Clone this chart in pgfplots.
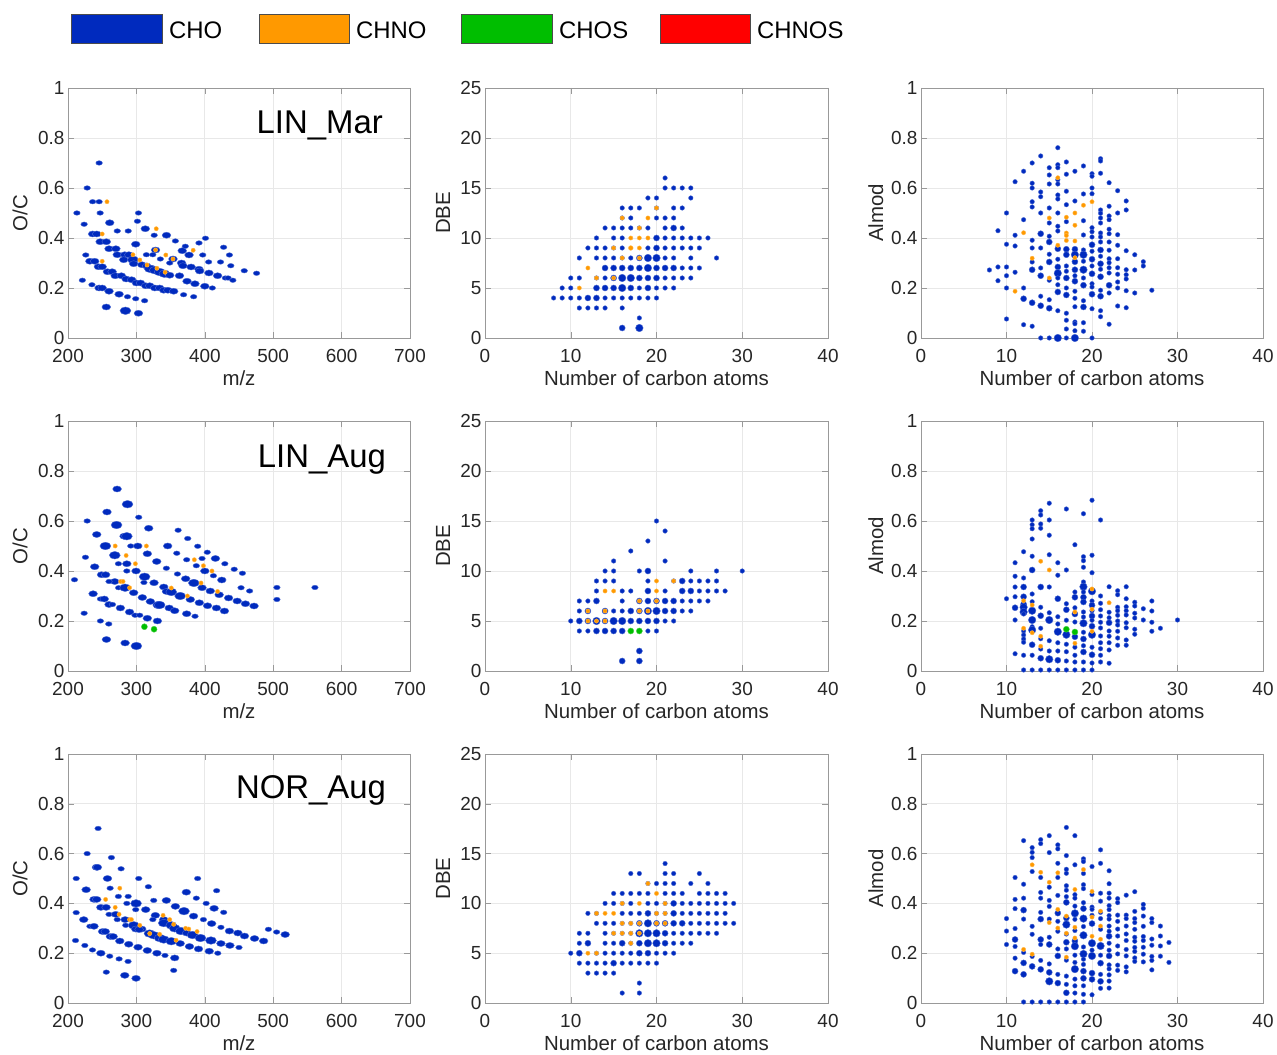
\documentclass[border=0pt]{standalone}
\usepackage{fontspec}
\setmainfont{Liberation Sans}
\usepackage{pgfplots}
\pgfplotsset{compat=1.18}
\definecolor{cho}{RGB}{0,42,190}
\definecolor{chno}{RGB}{255,153,0}
\definecolor{chos}{RGB}{0,190,0}
\definecolor{chnos}{RGB}{255,0,0}
\pgfdeclareplotmark{hell}{\pgfpathellipse{\pgfpointorigin}{\pgfpoint{1.45\pgfplotmarksize}{0pt}}{\pgfpoint{0pt}{\pgfplotmarksize}}\pgfusepathqfillstroke}
\pgfplotsset{
  mat/.style={scale only axis, width=342bp, height=250bp, anchor=south west,
    axis line style={black!40}, tick style={black!40}, major tick length=6bp,
    tick align=inside, grid=major, major grid style={black!9, line width=0.8bp},
    /pgf/number format/assume math mode=true,
    ticklabel style={font=\fontsize{19}{19}\selectfont, text=black!85},
    xticklabel style={yshift=-7.5bp},
    label style={font=\fontsize{20.5}{20.5}\selectfont, text=black!85},
    xlabel style={at={(axis description cs:0.5,-0.16)}, anchor=center},
    clip=false},
  lft/.style={mat, xmin=200, xmax=700, xtick={200,300,...,700}, ymin=0, ymax=1,
    ytick={0,0.2,0.4,0.6,0.8,1}, xlabel={m/z}, ylabel={O/C},
    ylabel style={at={(axis description cs:-0.14,0.5)}, anchor=center}},
  mid/.style={mat, width=343bp, xmin=0, xmax=40, xtick={0,10,...,40}, ymin=0, ymax=25,
    ytick={0,5,...,25}, xlabel={Number of carbon atoms}, ylabel={DBE},
    ylabel style={at={(axis description cs:-0.122,0.5)}, anchor=center}},
  rgt/.style={mat, xmin=0, xmax=40, xtick={0,10,...,40}, ymin=0, ymax=1,
    ytick={0,0.2,0.4,0.6,0.8,1}, xlabel={Number of carbon atoms}, ylabel={Almod},
    ylabel style={at={(axis description cs:-0.132,0.5)}, anchor=center}},
  bub/.style 2 args={scatter, only marks, mark=*, point meta=\thisrow{s},
    point meta min=0, point meta max=4,
    scatter/use mapped color={draw=#1!70!white, fill=#1},
    visualization depends on={#2+0.75*\thisrow{s}\as\ms},
    scatter/@pre marker code/.append style={/tikz/mark size=\ms, /tikz/line width=0.5bp}},
  bubL/.style 2 args={bub={#1}{#2}, mark=hell},
}
\begin{document}
\begin{tikzpicture}
\path[use as bounding box] (0bp,0bp) rectangle (1277bp,1055bp);
% legend
\foreach \xa/\xb/\col/\lab in {71/162/cho/CHO, 259/349/chno/CHNO, 461/552/chos/CHOS, 660/750/chnos/CHNOS}{
  \filldraw[fill=\col, draw=black!70, line width=0.6bp] (\xa bp,1012bp) rectangle (\xb bp,1041bp);
  \node[anchor=west, inner sep=0pt, font=\fontsize{24}{24}\selectfont] at (\xb bp+7bp,1025bp) {\lab};
}
%================ ROW 1 =================
\begin{axis}[lft, at={(68bp,717bp)}]
\addplot[bubL={cho}{1.55}] table[row sep=\\]{x y s\\
245.5 0.70 1\\ 228 0.60 1\\ 236 0.545 1\\ 245.5 0.545 1\\ 213 0.50 1\\ 247 0.50 1\\ 303 0.50 1\\ 223.6 0.455 1\\ 261 0.461 2\\ 272 0.428 1\\ 288 0.428 1\\ 301.5 0.467 1\\ 313 0.437 2\\ 326 0.411 1\\ 344 0.411 2\\ 236 0.416 2\\ 242 0.416 2\\ 247 0.385 2\\ 256 0.385 2\\ 299 0.375 2\\ 357 0.388 1\\ 371.5 0.367 1\\ 391.5 0.38 1\\ 401 0.399 1\\ 427.5 0.363 1\\ 260 0.357 2\\ 270 0.357 2\\ 328 0.352 2\\ 226 0.332 1\\ 272 0.333 2\\ 283 0.333 2\\ 289 0.333 2\\ 314.6 0.333 1\\ 324 0.333 1\\ 367 0.349 2\\ 377 0.332 2\\ 397 0.332 1\\ 436 0.332 1\\ 232 0.307 2\\ 239 0.307 2\\ 281.5 0.313 2\\ 295 0.313 3\\ 335 0.316 1\\ 353.5 0.316 2\\ 296 0.297 2\\ 308 0.293 2\\ 315 0.288 2\\ 322 0.279 2\\ 348.7 0.30 1\\ 366 0.30 2\\ 368 0.289 2\\ 391.5 0.275 2\\ 380 0.284 2\\ 405.6 0.304 1\\ 423 0.304 1\\ 438 0.289 1\\ 244.5 0.285 2\\ 250 0.285 2\\ 319.5 0.277 3\\ 327 0.271 3\\ 334 0.264 3\\ 341 0.257 3\\ 348.7 0.251 2\\ 363 0.249 2\\ 374 0.227 2\\ 385.6 0.217 2\\ 392.5 0.268 2\\ 406 0.26 2\\ 418.7 0.249 2\\ 430 0.24 1\\ 434 0.24 1\\ 441 0.231 1\\ 457.7 0.269 1\\ 475.7 0.259 1\\ 257.7 0.265 2\\ 264.5 0.265 2\\ 269 0.249 2\\ 278 0.249 2\\ 285 0.236 2\\ 293 0.233 2\\ 300 0.22 2\\ 306 0.22 2\\ 313.6 0.209 2\\ 319.5 0.209 2\\ 326.8 0.20 2\\ 334 0.20 2\\ 340 0.191 2\\ 346 0.191 2\\ 354.5 0.187 2\\ 369 0.173 1\\ 383.7 0.165 1\\ 400 0.207 2\\ 411 0.20 1\\ 221 0.231 1\\ 235 0.213 1\\ 245.5 0.20 2\\ 250 0.20 2\\ 260 0.187 2\\ 274.7 0.175 2\\ 287 0.165 1\\ 299 0.157 1\\ 312 0.149 1\\ 256 0.124 2\\ 284 0.109 3\\ 303 0.099 2\\
};
\addplot[bub={chno}{1.4}] table[row sep=\\]{x y s\\
257 0.545 1\\ 329 0.437 1\\ 250 0.416 1\\ 328 0.352 1\\ 343 0.332 1\\ 295 0.333 1\\ 383 0.351 1\\ 250 0.307 1\\ 305 0.312 1\\ 353.5 0.316 1\\ 315.6 0.292 1\\ 330 0.279 1\\ 342 0.263 1\\
};
\node[anchor=base east, inner sep=0pt, font=\fontsize{33}{33}\selectfont] at (axis description cs:0.921,0.816) {LIN\_Mar};
\end{axis}
\begin{axis}[mid, at={(485bp,717bp)}]
\addplot[bub={cho}{1.55}] table[row sep=\\]{x y s\\
21 16 1\\ 21 15 1\\ 22 15 1\\ 23 15 1\\ 24 15 1\\ 19 14 1\\ 20 14 1\\ 24 14 1\\
16 13 1\\ 17 13 1\\ 18 13 1\\ 20 13 1\\ 22 13 1\\ 23 13 1\\
16 12 1\\ 17 12 1\\ 20 12 1\\ 21 12 1\\ 22 12 1\\
14 11 1\\ 15 11 1\\ 16 11 1\\ 17 11 1\\ 18 11 1\\ 19 11 1\\ 21 11 1\\ 22 11 2\\ 23 11 1\\
13 10 1\\ 15 10 1\\ 16 10 1\\ 20 10 2\\ 21 10 1\\ 22 10 1\\ 23 10 1\\ 24 10 1\\ 25 10 1\\ 26 10 1\\
12 9 1\\ 13 9 1\\ 14 9 1\\ 15 9 1\\ 16 9 1\\ 19 9 1\\ 20 9 2\\ 21 9 1\\ 22 9 1\\ 23 9 1\\ 24 9 1\\ 25 9 1\\
11 8 1\\ 13 8 1\\ 14 8 1\\ 15 8 1\\ 16 8 1\\ 17 8 1\\ 18 8 2\\ 19 8 3\\ 20 8 3\\ 21 8 1\\ 22 8 1\\ 24 8 1\\ 27 8 1\\
14 7 2\\ 15 7 2\\ 16 7 2\\ 17 7 2\\ 18 7 2\\ 19 7 3\\ 20 7 2\\ 21 7 2\\ 22 7 2\\ 23 7 1\\ 24 7 1\\ 25 7 1\\
10 6 1\\ 11 6 1\\ 13 6 1\\ 14 6 1\\ 15 6 2\\ 16 6 3\\ 17 6 3\\ 18 6 2\\ 19 6 2\\ 20 6 2\\ 21 6 1\\ 22 6 1\\ 23 6 1\\ 24 6 1\\
9 5 1\\ 10 5 1\\ 13 5 2\\ 14 5 2\\ 15 5 2\\ 16 5 3\\ 17 5 2\\ 18 5 1\\ 19 5 2\\ 20 5 1\\ 21 5 1\\ 22 5 1\\
8 4 1\\ 9 4 1\\ 10 4 1\\ 11 4 1\\ 12 4 2\\ 13 4 2\\ 14 4 1\\ 15 4 1\\ 16 4 1\\ 17 4 1\\ 18 4 1\\ 19 4 1\\ 20 4 1\\
11 3 1\\ 12 3 1\\ 13 3 1\\ 14 3 1\\ 16 3 1\\ 18 2 1\\ 16 1 2\\ 18 1 3\\
};
\addplot[bub={chno}{1.4}] table[row sep=\\]{x y s\\
20 13 1\\ 16 12 1\\ 19 12 1\\ 18 11 1\\ 17 10 1\\ 18 10 1\\ 19 10 1\\ 15 9 1\\ 17 9 1.3\\ 18 9 1\\ 16 8 1\\ 18 8 1\\ 12 7 1\\ 13 6 1\\ 15 6 1\\ 11 5 1\\
};
\end{axis}
\begin{axis}[rgt, at={(921bp,717bp)}]
\addplot[bub={cho}{1.55}] table[row sep=\\]{x y s\\
8 0.272 1\\ 9 0.429 1\\ 9 0.284 1\\ 9 0.229 1\\
10 0.50 1\\ 10 0.375 1\\ 10 0.284 1\\ 10 0.249 1\\ 10 0.2 1\\ 10 0.076 1\\
11 0.625 1\\ 11 0.411 1\\ 11 0.368 1\\ 11 0.263 1\\
12 0.667 1\\ 12 0.473 1\\ 12 0.2 1\\ 12 0.157 2\\ 12 0.053 1\\
13 0.70 1\\ 13 0.619 1\\ 13 0.6 1\\ 13 0.545 1\\ 13 0.524 1\\ 13 0.391 1\\ 13 0.36 1\\ 13 0.304 1\\ 13 0.273 2\\ 13 0.141 2\\ 13 0.047 1\\
14 0.728 1\\ 14 0.584 1\\ 14 0.565 1\\ 14 0.50 1\\ 14 0.417 2\\ 14 0.36 1\\ 14 0.28 1\\ 14 0.249 2\\ 14 0.167 1\\ 14 0.129 2\\ 14 0.0 1\\
15 0.681 1\\ 15 0.652 1\\ 15 0.616 1\\ 15 0.52 1\\ 15 0.46 1\\ 15 0.407 1\\ 15 0.384 2\\ 15 0.335 1\\ 15 0.304 2\\ 15 0.231 1\\ 15 0.153 1\\ 15 0.119 2\\ 15 0.0 1\\
16 0.761 1\\ 16 0.693 1\\ 16 0.681 1\\ 16 0.633 1\\ 16 0.616 1\\ 16 0.572 1\\ 16 0.556 1\\ 16 0.5 1\\ 16 0.447 1\\ 16 0.428 1\\ 16 0.357 2\\ 16 0.315 1\\ 16 0.284 2\\ 16 0.259 3\\ 16 0.24 1\\ 16 0.213 1\\ 16 0.184 2\\ 16 0.109 1\\ 16 0.0 3\\
17 0.704 1\\ 17 0.655 1\\ 17 0.587 1\\ 17 0.533 1\\ 17 0.465 1\\ 17 0.355 2\\ 17 0.333 2\\ 17 0.288 1\\ 17 0.267 1\\ 17 0.24 2\\ 17 0.2 1\\ 17 0.172 2\\ 17 0.099 1\\ 17 0.071 1\\ 17 0.036 1\\ 17 0.0 1\\
18 0.667 1\\ 18 0.548 1\\ 18 0.355 2\\ 18 0.333 3\\ 18 0.305 2\\ 18 0.273 2\\ 18 0.249 1\\ 18 0.227 2\\ 18 0.187 1\\ 18 0.159 1\\ 18 0.125 1\\ 18 0.064 1\\ 18 0.057 1\\ 18 0.029 1\\ 18 0.0 3\\
19 0.688 1\\ 19 0.576 1\\ 19 0.469 1\\ 19 0.412 1\\ 19 0.352 1\\ 19 0.333 3\\ 19 0.307 1\\ 19 0.273 3\\ 19 0.24 1\\ 19 0.211 2\\ 19 0.149 1\\ 19 0.124 2\\ 19 0.061 1\\ 19 0.027 1\\
20 0.657 1\\ 20 0.647 1\\ 20 0.6 1\\ 20 0.577 1\\ 20 0.441 1\\ 20 0.425 1\\ 20 0.404 1\\ 20 0.373 2\\ 20 0.347 1\\ 20 0.315 2\\ 20 0.288 1\\ 20 0.257 2\\ 20 0.217 1\\ 20 0.204 1\\ 20 0.175 2\\ 20 0.117 1\\ 20 0.0 1\\
21 0.717 1\\ 21 0.708 1\\ 21 0.659 1\\ 21 0.512 1\\ 21 0.499 1\\ 21 0.48 1\\ 21 0.46 1\\ 21 0.42 1\\ 21 0.404 1\\ 21 0.384 1\\ 21 0.352 2\\ 21 0.327 1\\ 21 0.297 2\\ 21 0.275 1\\ 21 0.245 2\\ 21 0.191 1\\ 21 0.167 2\\ 21 0.109 1\\ 21 0.085 1\\
22 0.621 1\\ 22 0.527 1\\ 22 0.488 1\\ 22 0.473 1\\ 22 0.435 1\\ 22 0.417 1\\ 22 0.384 1\\ 22 0.351 1\\ 22 0.317 1\\ 22 0.301 1\\ 22 0.281 1\\ 22 0.26 1\\ 22 0.211 2\\ 22 0.18 1\\ 22 0.055 1\\
23 0.589 1\\ 23 0.50 1\\ 23 0.413 1\\ 23 0.371 1\\ 23 0.317 1\\ 23 0.281 1\\ 23 0.255 1\\ 23 0.224 1\\ 23 0.2 1\\ 23 0.128 1\\
24 0.548 1\\ 24 0.512 1\\ 24 0.349 1\\ 24 0.273 1\\ 24 0.253 1\\ 24 0.236 1\\ 24 0.189 1\\ 24 0.121 1\\
25 0.333 1\\ 25 0.272 1\\ 25 0.18 1\\ 26 0.305 1\\ 26 0.288 1\\ 27 0.191 1\\
};
\addplot[bub={chno}{1.4}] table[row sep=\\]{x y s\\
11 0.187 1\\ 12 0.421 1\\ 13 0.319 1\\ 15 0.48 1\\ 15 0.24 1\\ 16 0.641 1\\ 16 0.371 1\\ 17 0.483 1\\ 17 0.42 1\\ 17 0.41 1\\ 17 0.39 1\\ 18 0.50 1\\ 18 0.451 1\\ 18 0.388 1\\ 18 0.321 1\\ 19 0.531 1\\ 20 0.545 1\\
};
\end{axis}
%================ ROW 2 =================
\begin{axis}[lft, at={(68bp,384bp)}]
\addplot[bubL={cho}{1.55}] table[row sep=\\]{x y s\\
271.8 0.728 2\\ 287 0.667 3\\ 257 0.636 2\\ 303.4 0.615 1\\ 228 0.60 1\\ 271 0.584 3\\ 318 0.571 2\\ 242 0.546 2\\ 282 0.539 2\\ 286 0.539 3\\ 361 0.563 1\\ 375 0.53 1\\ 389.6 0.499 1\\ 254.7 0.50 3\\ 291.8 0.50 1\\ 302 0.50 2\\ 345.7 0.50 2\\ 403.6 0.475 1\\ 268.4 0.463 3\\ 316 0.469 2\\ 359 0.471 1\\ 373.5 0.445 1\\ 396 0.45 1\\ 415.5 0.45 2\\ 225.5 0.455 1\\ 239 0.417 2\\ 273.7 0.429 1\\ 286 0.429 2\\ 329.7 0.438 2\\ 387.6 0.421 1\\ 429.3 0.429 1\\ 286 0.40 1\\ 299.5 0.40 2\\ 343.8 0.411 1\\ 400 0.40 2\\ 443 0.407 1\\ 455 0.391 1\\ 412.6 0.381 1\\ 424.8 0.364 2\\ 209.5 0.365 1\\ 249 0.385 2\\ 255 0.385 2\\ 312 0.377 3\\ 311 0.354 1\\ 325.8 0.353 2\\ 360 0.388 1\\ 372 0.369 2\\ 384 0.352 3\\ 268.4 0.358 2\\ 260 0.358 1\\ 274 0.333 1\\ 283.5 0.333 3\\ 340 0.336 2\\ 396 0.333 2\\ 408 0.32 2\\ 421 0.305 2\\ 434.8 0.292 2\\ 447.4 0.28 2\\ 453 0.333 1\\ 465.5 0.32 1\\ 344 0.318 2\\ 351 0.316 3\\ 364 0.30 3\\ 378.8 0.286 2\\ 296 0.313 2\\ 308.7 0.294 2\\ 320.4 0.278 2\\ 332 0.264 3\\ 334 0.264 3\\ 348 0.252 2\\ 356 0.241 2\\ 373.5 0.229 2\\ 385.7 0.219 1\\ 392 0.273 2\\ 404 0.261 2\\ 417 0.252 2\\ 428.7 0.24 2\\ 459.4 0.269 2\\ 472 0.26 2\\ 236.7 0.309 2\\ 247.4 0.288 1\\ 253 0.288 2\\ 260 0.266 2\\ 265 0.266 1\\ 276.6 0.252 2\\ 290 0.236 2\\ 298 0.223 1\\ 304.9 0.223 1\\ 316 0.211 2\\ 330.7 0.20 2\\ 223.6 0.231 1\\ 247.4 0.20 1\\ 259.6 0.188 1\\ 256.2 0.126 2\\ 283.5 0.112 2\\ 300 0.10 3\\ 505.4 0.334 1\\ 505.4 0.286 1\\ 561 0.334 1\\
};
\addplot[bub={chno}{1.4}] table[row sep=\\]{x y s\\
269 0.50 1\\ 314.6 0.50 1\\ 285 0.462 1\\ 384.7 0.445 1\\ 298.5 0.429 1\\ 398 0.421 1\\ 410.5 0.40 1\\ 394.5 0.352 1\\ 277 0.358 1\\ 280.5 0.358 1\\ 290 0.333 1\\ 351 0.332 1\\ 418.7 0.318 1\\ 374.6 0.30 1\\
};
\addplot[bub={chos}{1.55}] table[row sep=\\]{x y s\\
311.7 0.177 2\\ 325.8 0.167 2\\
};
\node[anchor=base east, inner sep=0pt, font=\fontsize{33}{33}\selectfont] at (axis description cs:0.93,0.812) {LIN\_Aug};
\end{axis}
\begin{axis}[mid, at={(485bp,384bp)}]
\addplot[bub={cho}{1.55}] table[row sep=\\]{x y s\\
20 15 1\\ 21 14 1\\ 19 13 1\\ 17 12 1\\ 15 11 1\\ 21 11 1\\
14 10 1\\ 15 10 1\\ 18 10 1\\ 19 10 2\\ 24 10 1\\ 27 10 1\\ 30 10 1\\
13 9 1\\ 14 9 1\\ 15 9 1\\ 19 9 1\\ 22 9 1\\ 23 9 2\\ 24 9 1\\ 25 9 1\\ 26 9 1\\ 27 9 1\\
13 8 1\\ 16 8 1\\ 17 8 1\\ 19 8 2\\ 21 8 1\\ 23 8 2\\ 24 8 2\\ 25 8 1\\ 26 8 1\\ 27 8 1\\ 28 8 1\\
11 7 1\\ 12 7 1\\ 13 7 2\\ 16 7 1\\ 18 7 2\\ 19 7 2\\ 20 7 2\\ 21 7 2\\ 22 7 2\\ 23 7 1\\ 24 7 1\\ 25 7 1\\ 26 7 1\\
11 6 1\\ 12 6 2\\ 14 6 2\\ 15 6 1\\ 16 6 1\\ 17 6 2\\ 18 6 2\\ 19 6 3\\ 20 6 3\\ 21 6 2\\ 22 6 2\\ 23 6 1\\ 24 6 1\\
10 5 1\\ 11 5 2\\ 12 5 2\\ 13 5 3\\ 14 5 2\\ 15 5 3\\ 16 5 3\\ 17 5 2\\ 18 5 2\\ 19 5 2\\ 20 5 2\\ 21 5 1\\ 22 5 1\\
11 4 1\\ 12 4 1\\ 13 4 2\\ 14 4 2\\ 15 4 2\\ 16 4 2\\ 19 4 1\\ 20 4 1\\
18 2 2\\ 16 1 2\\ 18 1 2\\
};
\addplot[bub={chno}{1.4}] table[row sep=\\]{x y s\\
20 9 1\\ 22 9 1\\ 14 8 1\\ 15 8 1\\ 20 8 1\\ 18 7 1\\ 20 7 1\\ 12 6 1\\ 14 6 1\\ 18 6 1\\ 19 6 1\\ 12 5 1\\ 13 5 1\\ 14 5 1\\
};
\addplot[bub={chos}{1.55}] table[row sep=\\]{x y s\\
17 4 2\\ 18 4 2\\
};
\end{axis}
\begin{axis}[rgt, at={(921bp,384bp)}]
\addplot[bub={cho}{1.55}] table[row sep=\\]{x y s\\
10 0.289 1\\
11 0.433 1\\ 11 0.379 1\\ 11 0.336 1\\ 11 0.297 1\\ 11 0.253 2\\ 11 0.204 1\\ 11 0.069 1\\
12 0.477 1\\ 12 0.372 1\\ 12 0.336 2\\ 12 0.297 2\\ 12 0.267 2\\ 12 0.255 3\\ 12 0.236 3\\ 12 0.228 1\\ 12 0.16 1\\ 12 0.144 1\\ 12 0.128 1\\ 12 0.115 1\\ 12 0.063 1\\ 12 0.004 1\\
13 0.604 1\\ 13 0.585 1\\ 13 0.569 1\\ 13 0.528 1\\ 13 0.459 1\\ 13 0.404 2\\ 13 0.308 1\\ 13 0.277 1\\ 13 0.241 3\\ 13 0.204 3\\ 13 0.177 1\\ 13 0.164 3\\ 13 0.105 2\\ 13 0.063 1\\ 13 0.004 1\\
14 0.641 1\\ 14 0.624 1\\ 14 0.588 1\\ 14 0.571 1\\ 14 0.336 2\\ 14 0.255 1\\ 14 0.221 2\\ 14 0.171 1\\ 14 0.129 1\\ 14 0.088 1\\ 14 0.051 2\\ 14 0.004 1\\
15 0.671 1\\ 15 0.604 1\\ 15 0.543 1\\ 15 0.465 1\\ 15 0.336 1\\ 15 0.233 1\\ 15 0.204 3\\ 15 0.121 1\\ 15 0.08 1\\ 15 0.047 3\\ 15 0.004 1\\
16 0.433 1\\ 16 0.383 1\\ 16 0.289 2\\ 16 0.217 1\\ 16 0.188 1\\ 16 0.157 3\\ 16 0.113 1\\ 16 0.08 1\\ 16 0.043 2\\ 16 0.004 1\\
17 0.648 1\\ 17 0.404 1\\ 17 0.269 1\\ 17 0.245 2\\ 17 0.203 1\\ 17 0.145 3\\ 17 0.107 1\\ 17 0.077 1\\ 17 0.04 1\\ 17 0.004 1\\
18 0.505 1\\ 18 0.316 1\\ 18 0.295 2\\ 18 0.253 1\\ 18 0.228 2\\ 18 0.196 1\\ 18 0.137 2\\ 18 0.095 1\\ 18 0.063 1\\ 18 0.036 1\\ 18 0.004 1\\
19 0.629 1\\ 19 0.457 1\\ 19 0.441 1\\ 19 0.415 1\\ 19 0.356 1\\ 19 0.337 3\\ 19 0.316 1\\ 19 0.295 2\\ 19 0.276 2\\ 19 0.236 1\\ 19 0.216 1\\ 19 0.191 3\\ 19 0.155 1\\ 19 0.128 2\\ 19 0.101 1\\ 19 0.076 2\\ 19 0.036 1\\ 19 0.004 1\\
20 0.683 1\\ 20 0.463 1\\ 20 0.393 1\\ 20 0.319 3\\ 20 0.28 1\\ 20 0.263 2\\ 20 0.241 1\\ 20 0.22 2\\ 20 0.203 1\\ 20 0.179 2\\ 20 0.145 3\\ 20 0.095 1\\ 20 0.065 2\\ 20 0.032 1\\ 20 0.004 1\\
21 0.604 1\\ 21 0.3 1\\ 21 0.271 1\\ 21 0.245 1\\ 21 0.22 1\\ 21 0.195 1\\ 21 0.172 1\\ 21 0.14 1\\ 21 0.113 1\\ 21 0.089 1\\ 21 0.063 1\\ 21 0.036 1\\
22 0.337 1\\ 22 0.235 1\\ 22 0.213 1\\ 22 0.193 2\\ 22 0.16 1\\ 22 0.139 1\\ 22 0.113 1\\ 22 0.084 1\\ 22 0.031 1\\
23 0.321 1\\ 23 0.305 1\\ 23 0.255 1\\ 23 0.241 1\\ 23 0.223 1\\ 23 0.2 1\\ 23 0.184 1\\ 23 0.159 1\\ 23 0.132 1\\ 23 0.103 1\\
24 0.337 1\\ 24 0.289 1\\ 24 0.257 1\\ 24 0.241 1\\ 24 0.224 1\\ 24 0.193 1\\ 24 0.173 1\\ 24 0.124 1\\ 24 0.103 1\\
25 0.275 1\\ 25 0.26 1\\ 25 0.231 1\\ 25 0.212 1\\ 25 0.167 1\\ 25 0.147 1\\
26 0.249 1\\ 26 0.204 1\\ 27 0.28 1\\ 27 0.24 1\\ 27 0.195 1\\ 27 0.159 1\\ 28 0.171 1\\ 30 0.204 1\\
};
\addplot[bub={chno}{1.4}] table[row sep=\\]{x y s\\
12 0.281 1\\ 12 0.171 1\\ 13 0.264 1\\ 13 0.153 1\\ 14 0.439 1\\ 14 0.139 1\\ 14 0.099 1\\ 15 0.404 1\\ 18 0.236 1\\ 18 0.111 1\\ 20 0.328 1\\ 20 0.247 1\\ 20 0.159 1\\ 22 0.273 1\\
};
\addplot[bub={chos}{1.55}] table[row sep=\\]{x y s\\
17 0.167 2\\ 18 0.156 2\\
};
\end{axis}
%================ ROW 3 =================
\begin{axis}[lft, height=249bp, at={(68bp,52bp)}]
\addplot[bubL={cho}{1.55}] table[row sep=\\]{x y s\\
244 0.701 1\\ 228 0.60 1\\ 263.5 0.584 1\\ 241.6 0.545 2\\ 243 0.545 2\\ 277.6 0.539 1\\ 212 0.50 1\\ 257.7 0.50 2\\ 303.4 0.50 1\\ 389.5 0.50 1\\ 226.5 0.455 2\\ 261.6 0.461 1\\ 317.5 0.467 1\\ 373 0.445 2\\ 417.3 0.451 1\\ 273.7 0.428 1\\ 288 0.428 1\\ 238 0.416 2\\ 242 0.416 2\\ 299.5 0.40 3\\ 343.8 0.412 2\\ 387.6 0.421 1\\ 402 0.40 1\\ 325.3 0.412 1\\ 248 0.384 2\\ 255.7 0.384 2\\ 286 0.40 1\\ 299 0.375 1\\ 313.6 0.375 2\\ 357 0.388 2\\ 369.6 0.369 3\\ 413.6 0.38 2\\ 427.6 0.364 1\\ 212 0.363 1\\ 260 0.356 1\\ 269.8 0.356 2\\ 327.7 0.352 2\\ 383.6 0.349 2\\ 223 0.335 2\\ 272 0.335 1\\ 283.5 0.335 2\\ 324 0.335 1\\ 340 0.335 2\\ 398 0.335 1\\ 284.4 0.312 1\\ 296 0.312 3\\ 299 0.297 2\\ 307.8 0.297 2\\ 340 0.321 3\\ 351 0.312 3\\ 410 0.319 2\\ 423.6 0.304 1\\ 232 0.308 1\\ 238 0.308 2\\ 356 0.30 3\\ 365 0.289 3\\ 373.5 0.281 2\\ 382 0.273 3\\ 393.7 0.261 3\\ 409 0.251 3\\ 423.6 0.239 2\\ 436.7 0.231 2\\ 450 0.223 1\\ 436 0.289 2\\ 448.4 0.281 2\\ 458 0.269 2\\ 472.7 0.259 2\\ 486 0.249 2\\ 493 0.296 1\\ 505 0.285 1\\ 517.5 0.275 2\\ 250.6 0.287 2\\ 254.5 0.287 2\\ 262 0.267 2\\ 266 0.267 2\\ 275.7 0.249 2\\ 288.8 0.236 2\\ 302.4 0.224 2\\ 316 0.211 2\\ 330 0.20 2\\ 304 0.295 2\\ 319.2 0.279 3\\ 325.5 0.272 3\\ 334 0.261 3\\ 340 0.255 3\\ 351 0.248 3\\ 364 0.239 2\\ 377.6 0.227 2\\ 390.8 0.217 2\\ 406.5 0.208 2\\ 419 0.20 1\\ 211 0.251 1\\ 224.6 0.231 1\\ 235.8 0.213 1\\ 248 0.20 2\\ 261 0.188 1\\ 274.7 0.177 1\\ 287.8 0.167 1\\ 341.8 0.191 1\\ 356 0.181 2\\ 256 0.124 1\\ 283 0.111 2\\ 299.5 0.099 2\\ 354.5 0.131 1\\
};
\addplot[bub={chno}{1.4}] table[row sep=\\]{x y s\\
275.7 0.461 1\\ 255 0.416 1\\ 269 0.384 1\\ 274.7 0.356 1\\ 339 0.352 1\\ 290 0.335 1\\ 292.7 0.335 1\\ 348.7 0.335 1\\ 305 0.312 1\\ 354.5 0.316 1\\ 372 0.30 1\\ 376.6 0.297 1\\ 388.7 0.287 1\\ 358 0.252 1\\ 319.5 0.279 1\\ 334 0.276 1\\
};
\node[anchor=base east, inner sep=0pt, font=\fontsize{33}{33}\selectfont] at (axis description cs:0.93,0.823) {NOR\_Aug};
\end{axis}
\begin{axis}[mid, height=249bp, at={(485bp,52bp)}]
\addplot[bub={cho}{1.55}] table[row sep=\\]{x y s\\
21 14 1\\ 17 13 1\\ 18 13 1\\ 21 13 1\\ 22 13 1\\ 25 13 1\\
19 12 1\\ 20 12 1\\ 21 12 1\\ 22 12 1\\ 24 12 1\\ 26 12 1\\
15 11 1\\ 16 11 1\\ 17 11 1\\ 18 11 1\\ 19 11 1\\ 21 11 1\\ 22 11 1\\ 23 11 1\\ 25 11 1\\ 26 11 1\\ 27 11 1\\ 28 11 1\\
14 10 1\\ 15 10 1\\ 16 10 1\\ 17 10 1\\ 19 10 1\\ 20 10 1\\ 21 10 1\\ 22 10 2\\ 23 10 1\\ 24 10 1\\ 25 10 1\\ 26 10 1\\ 27 10 1\\ 28 10 1\\ 29 10 1\\
12 9 1\\ 13 9 1\\ 16 9 1\\ 17 9 1\\ 18 9 1\\ 19 9 2\\ 20 9 1\\ 21 9 1\\ 22 9 2\\ 23 9 1\\ 24 9 1\\ 25 9 1\\ 26 9 1\\ 27 9 1\\ 28 9 1\\
13 8 1\\ 14 8 1\\ 15 8 1\\ 16 8 1\\ 17 8 1\\ 18 8 2\\ 19 8 3\\ 20 8 2\\ 21 8 2\\ 22 8 2\\ 23 8 2\\ 24 8 1\\ 25 8 1\\ 26 8 1\\ 27 8 1\\ 28 8 1\\ 29 8 1\\
11 7 1\\ 12 7 1\\ 14 7 1\\ 15 7 1\\ 16 7 1\\ 17 7 1\\ 18 7 3\\ 19 7 3\\ 20 7 3\\ 21 7 2\\ 22 7 1\\ 23 7 1\\ 24 7 1\\ 25 7 1\\ 26 7 1\\ 27 7 1\\
11 6 1\\ 12 6 2\\ 14 6 1\\ 15 6 1\\ 16 6 2\\ 17 6 1\\ 18 6 2\\ 19 6 3\\ 20 6 3\\ 21 6 2\\ 22 6 1\\ 23 6 1\\ 24 6 1\\
10 5 1\\ 11 5 2\\ 13 5 1\\ 14 5 1\\ 15 5 1\\ 16 5 1\\ 17 5 1\\ 18 5 2\\ 19 5 2\\ 20 5 1\\ 21 5 1\\ 22 5 1\\
11 4 1\\ 12 4 1\\ 13 4 1\\ 14 4 1\\ 15 4 2\\ 16 4 1\\ 17 4 1\\ 18 4 1\\ 19 4 1\\ 20 4 1\\
12 3 1\\ 13 3 1\\ 14 3 1\\ 15 3 1\\ 18 2 1\\ 16 1 1\\ 18 1 1\\
};
\addplot[bub={chno}{1.4}] table[row sep=\\]{x y s\\
19 12 1\\ 20 11 1\\ 16 10 1\\ 18 10 1\\ 21 10 1\\ 13 9 1\\ 14 9 1\\ 15 9 1\\ 20 9 1\\ 21 9 1\\ 16 8 1\\ 17 8 1\\ 18 8 1\\ 20 8 1\\ 21 8 1\\ 15 7 1\\ 16 7 1\\ 17 7 1\\ 18 7 1\\ 17 6 1\\ 12 5 1\\ 13 5 1\\
};
\end{axis}
\begin{axis}[rgt, height=249bp, at={(921bp,52bp)}]
\addplot[bub={cho}{1.55}] table[row sep=\\]{x y s\\
10 0.339 1\\ 10 0.289 1\\ 10 0.235 1\\
11 0.504 1\\ 11 0.416 1\\ 11 0.379 1\\ 11 0.299 1\\ 11 0.255 2\\ 11 0.227 1\\ 11 0.18 1\\ 11 0.128 2\\
12 0.652 1\\ 12 0.477 1\\ 12 0.421 1\\ 12 0.373 2\\ 12 0.337 1\\ 12 0.203 1\\ 12 0.161 2\\ 12 0.115 2\\ 12 0.004 1\\
13 0.624 1\\ 13 0.605 1\\ 13 0.584 1\\ 13 0.528 1\\ 13 0.308 1\\ 13 0.276 1\\ 13 0.187 1\\ 13 0.147 2\\ 13 0.004 1\\
14 0.656 1\\ 14 0.64 1\\ 14 0.504 1\\ 14 0.444 1\\ 14 0.421 1\\ 14 0.364 1\\ 14 0.337 2\\ 14 0.255 2\\ 14 0.235 1\\ 14 0.171 1\\ 14 0.135 2\\ 14 0.004 1\\
15 0.672 1\\ 15 0.604 1\\ 15 0.465 1\\ 15 0.412 1\\ 15 0.388 1\\ 15 0.337 1\\ 15 0.264 1\\ 15 0.235 2\\ 15 0.157 1\\ 15 0.123 2\\ 15 0.087 3\\ 15 0.004 1\\
16 0.635 1\\ 16 0.619 1\\ 16 0.561 1\\ 16 0.504 1\\ 16 0.432 1\\ 16 0.361 2\\ 16 0.328 1\\ 16 0.288 1\\ 16 0.217 1\\ 16 0.189 2\\ 16 0.115 1\\ 16 0.08 2\\ 16 0.004 1\\
17 0.705 1\\ 17 0.592 1\\ 17 0.537 1\\ 17 0.521 1\\ 17 0.471 1\\ 17 0.453 1\\ 17 0.427 1\\ 17 0.404 2\\ 17 0.341 2\\ 17 0.315 3\\ 17 0.277 1\\ 17 0.244 2\\ 17 0.217 1\\ 17 0.172 1\\ 17 0.108 1\\ 17 0.075 1\\ 17 0.041 2\\ 17 0.004 1\\
18 0.672 1\\ 18 0.555 1\\ 18 0.435 1\\ 18 0.421 1\\ 18 0.389 1\\ 18 0.36 3\\ 18 0.336 1\\ 18 0.291 1\\ 18 0.249 2\\ 18 0.228 3\\ 18 0.192 1\\ 18 0.163 1\\ 18 0.136 3\\ 18 0.096 1\\ 18 0.069 1\\ 18 0.04 1\\ 18 0.004 1\\
19 0.579 1\\ 19 0.568 1\\ 19 0.52 1\\ 19 0.475 1\\ 19 0.459 1\\ 19 0.403 1\\ 19 0.379 2\\ 19 0.339 3\\ 19 0.307 1\\ 19 0.272 3\\ 19 0.225 1\\ 19 0.197 3\\ 19 0.176 1\\ 19 0.155 1\\ 19 0.128 2\\ 19 0.099 2\\ 19 0.069 1\\ 19 0.035 1\\ 19 0.004 1\\
20 0.548 1\\ 20 0.436 1\\ 20 0.385 1\\ 20 0.376 1\\ 20 0.352 1\\ 20 0.319 2\\ 20 0.24 3\\ 20 0.212 1\\ 20 0.189 3\\ 20 0.12 2\\ 20 0.095 2\\ 20 0.033 1\\
21 0.615 1\\ 21 0.561 1\\ 21 0.441 1\\ 21 0.409 1\\ 21 0.364 1\\ 21 0.339 1\\ 21 0.296 1\\ 21 0.229 3\\ 21 0.192 1\\ 21 0.16 2\\ 21 0.115 1\\ 21 0.087 2\\ 21 0.059 1\\
22 0.531 1\\ 22 0.479 1\\ 22 0.441 1\\ 22 0.421 1\\ 22 0.391 1\\ 22 0.375 1\\ 22 0.351 1\\ 22 0.337 1\\ 22 0.309 1\\ 22 0.288 1\\ 22 0.268 2\\ 22 0.24 1\\ 22 0.212 1\\ 22 0.189 2\\ 22 0.153 1\\ 22 0.137 1\\ 22 0.113 1\\ 22 0.088 1\\ 22 0.06 1\\
23 0.419 1\\ 23 0.403 1\\ 23 0.353 1\\ 23 0.328 1\\ 23 0.297 1\\ 23 0.269 1\\ 23 0.229 1\\ 23 0.197 1\\ 23 0.152 1\\ 23 0.131 1\\
24 0.433 1\\ 24 0.353 1\\ 24 0.339 1\\ 24 0.309 1\\ 24 0.277 1\\ 24 0.251 1\\ 24 0.215 1\\ 24 0.189 1\\ 24 0.145 1\\ 24 0.125 1\\
25 0.447 1\\ 25 0.368 1\\ 25 0.339 1\\ 25 0.323 1\\ 25 0.296 1\\ 25 0.264 1\\ 25 0.248 1\\ 25 0.223 1\\ 25 0.207 1\\ 25 0.181 1\\ 25 0.167 1\\
26 0.396 1\\ 26 0.38 1\\ 26 0.349 1\\ 26 0.308 1\\ 26 0.267 1\\ 26 0.251 1\\ 26 0.224 1\\ 26 0.196 1\\ 26 0.165 1\\
27 0.339 1\\ 27 0.323 1\\ 27 0.257 1\\ 27 0.232 1\\ 27 0.187 1\\ 27 0.171 1\\ 27 0.133 1\\
28 0.309 1\\ 28 0.269 1\\ 28 0.229 1\\ 28 0.188 1\\ 29 0.243 1\\ 29 0.163 1\\
};
\addplot[bub={chno}{1.4}] table[row sep=\\]{x y s\\
12 0.215 1\\ 13 0.555 1\\ 13 0.196 1\\ 14 0.525 1\\ 15 0.485 1\\ 15 0.323 1\\ 16 0.523 1\\ 16 0.376 1\\ 16 0.301 1\\ 17 0.349 1\\ 17 0.28 1\\ 17 0.184 1\\ 18 0.456 1\\ 18 0.304 1\\ 18 0.261 1\\ 19 0.536 1\\ 20 0.448 1\\ 20 0.345 1\\ 20 0.268 1\\ 21 0.369 1\\ 21 0.309 1\\ 21 0.256 1\\
};
\end{axis}
\end{tikzpicture}
\end{document}
